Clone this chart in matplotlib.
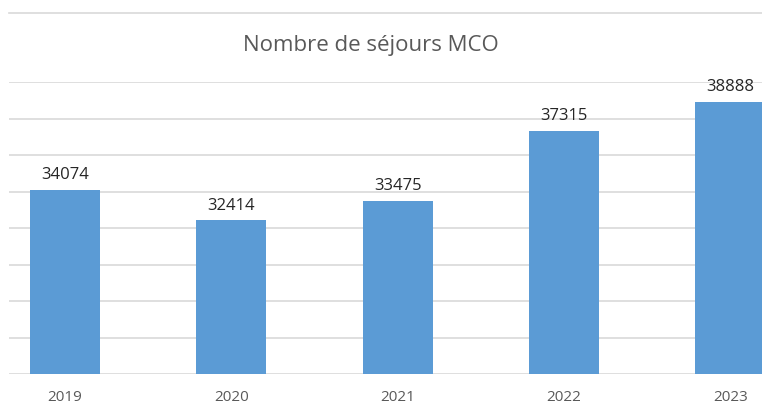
import matplotlib
matplotlib.use("Agg")
import matplotlib.pyplot as plt
from matplotlib.lines import Line2D

# données du graphique
years = ["2019", "2020", "2021", "2022", "2023"]
sejours = [34074, 32414, 33475, 37315, 38888]

plt.rcParams['font.family'] = ['Open Sans', 'DejaVu Sans']

W, H = 762, 408
fig = plt.figure(figsize=(W / 100, H / 100), dpi=100)

# zone de tracé (coordonnées en pixels de la figure)
left_px, right_px, base_px, top_px = 9, 762, 374, 82
ax = fig.add_axes([left_px / W, (H - base_px) / H,
                   (right_px - left_px) / W, (base_px - top_px) / H])

x = list(range(len(years)))
ax.bar(x, sejours, width=0.42, color="#5B9BD5", zorder=3)

ax.set_xlim(-0.337, 4.19)
ax.set_ylim(24000, 40000)
ax.set_yticks(range(24000, 40001, 2000))
ax.yaxis.grid(True, color="#D9D9D9", linewidth=1.2, zorder=0)
ax.set_axisbelow(True)
ax.tick_params(axis="y", left=False, labelleft=False)
ax.tick_params(axis="x", bottom=False, labelsize=11, labelcolor="#595959", pad=8)
ax.set_xticks(x)
ax.set_xticklabels(years)
for s in ax.spines.values():
    s.set_visible(False)

# étiquettes de valeurs
for xi, v in zip(x, sejours):
    ax.annotate(str(v), (xi, v), xytext=(0, 5), textcoords="offset points",
                ha="center", va="bottom", fontsize=12, color="#262626",
                clip_on=False, zorder=4)

# titre
fig.text(371 / W, 1 - 45 / H, "Nombre de séjours MCO", ha="center", va="center",
         fontsize=16, color="#595959")

# ligne supérieure de la bordure
fig.add_artist(Line2D([left_px / W, 1], [1 - 13 / H, 1 - 13 / H],
                      color="#D9D9D9", linewidth=1.2))

fig.savefig("out.png", dpi=100)
